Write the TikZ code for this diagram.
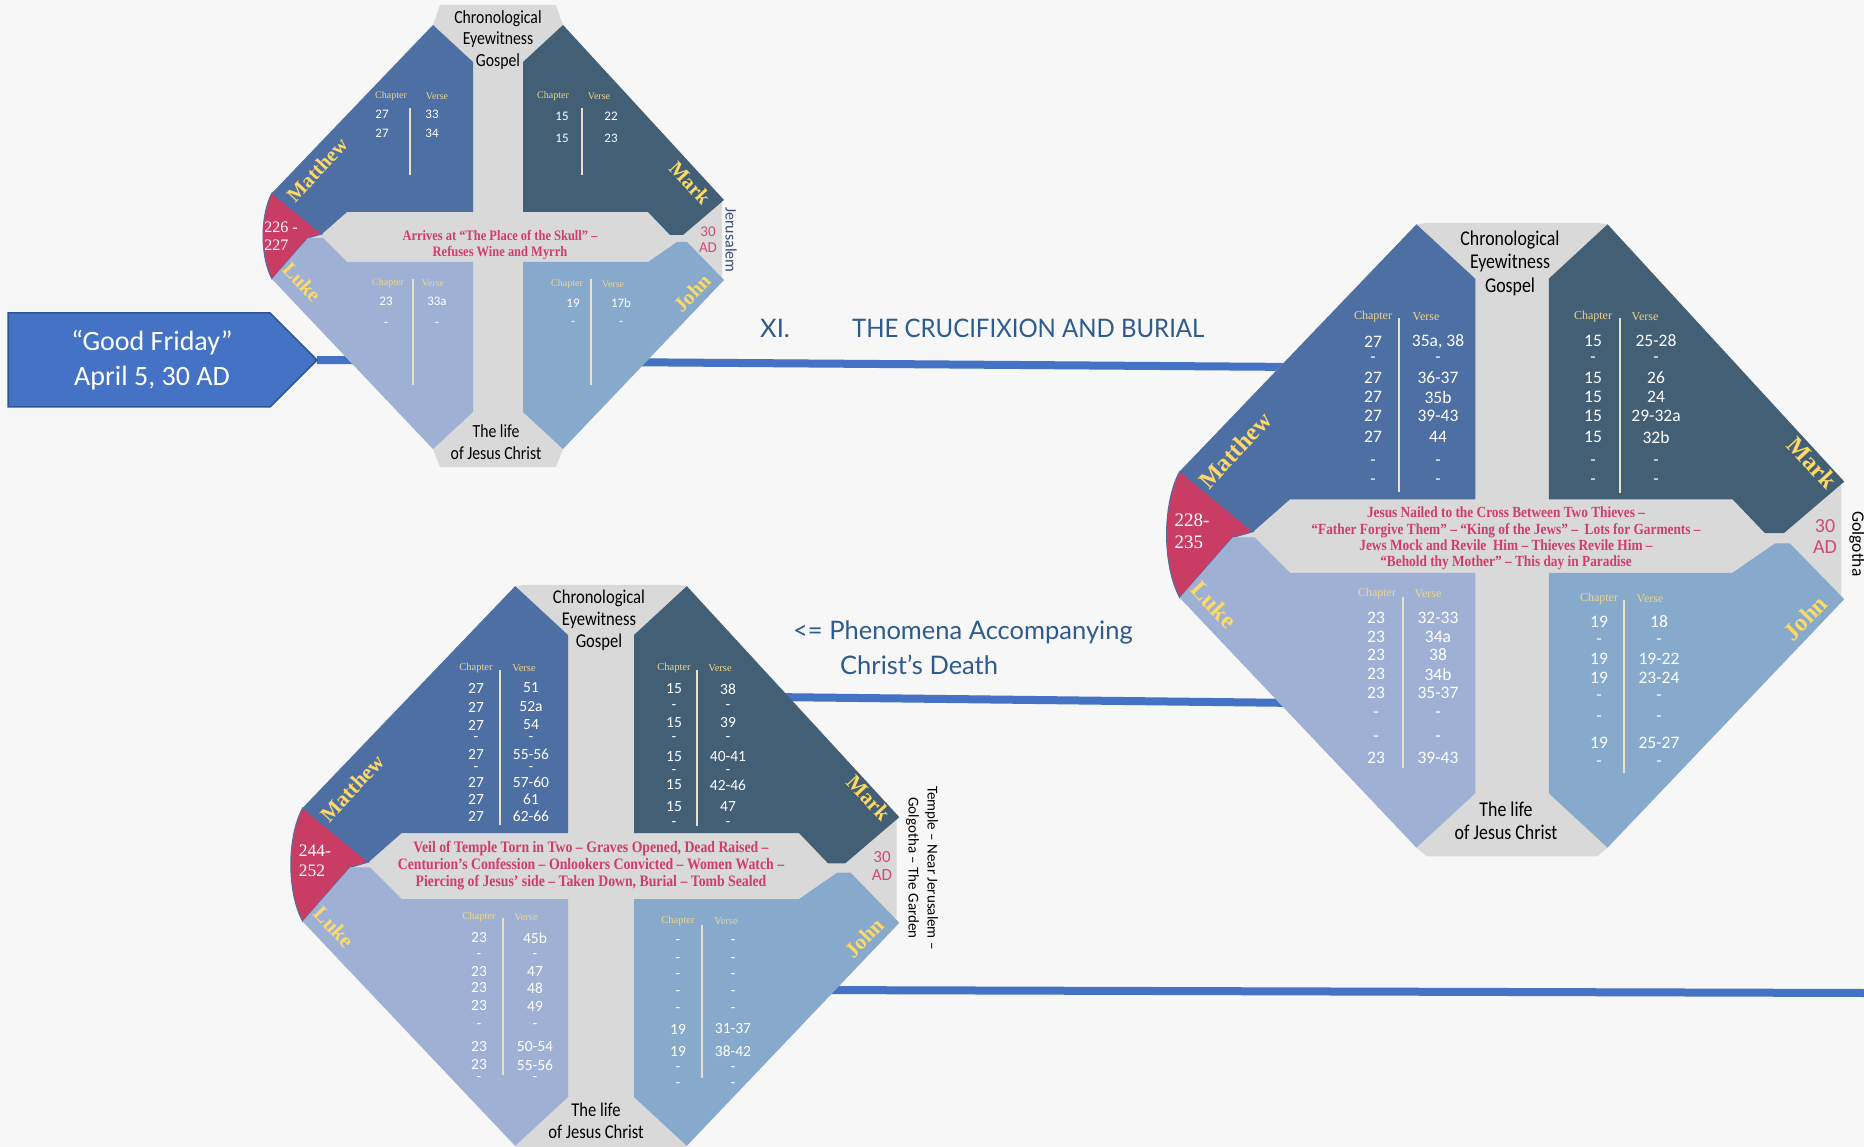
\documentclass[tikz,border=0pt]{standalone}
\usepackage{fontspec}
\setmainfont{Carlito}
\newfontfamily\condf{Carlito}[FakeStretch=0.85]
\newfontfamily\serf{Liberation Serif}
\newfontfamily\serfc{Liberation Serif}[FakeStretch=0.86]
\newfontfamily\titlef{Lato}
\newfontfamily\titlefc{Lato}[FakeStretch=0.94]
\definecolor{bgc}{HTML}{F7F7F7}
\definecolor{matc}{HTML}{4E6FA3}
\definecolor{markc}{HTML}{435F76}
\definecolor{lukec}{HTML}{9EB1D5}
\definecolor{johnc}{HTML}{87AACC}
\definecolor{grayc}{HTML}{D9D9D9}
\definecolor{redc}{HTML}{C93D65}
\definecolor{namey}{HTML}{FFD966}
\definecolor{hdry}{HTML}{F0D58A}
\definecolor{bandred}{HTML}{D03C6B}
\definecolor{adred}{HTML}{D04A78}
\definecolor{titleblue}{HTML}{2D5B8C}
\definecolor{linec}{HTML}{4472C4}
\definecolor{bannerbd}{HTML}{2F5597}
\definecolor{divc}{HTML}{E9E2C8}
\definecolor{locblue}{HTML}{34507A}
\newcounter{nd}
\newcommand\T[3][]{\stepcounter{nd}\edef\nn{t\arabic{nd}}\node[#1] (\nn) at (#2) {#3};}
\newcommand\crow[5]{\T[num]{#1,#3}{#4}\T[num]{#2,#3}{#5}}
% #1 cx, #2 cy, #3 scale, #4 top cap y, #5 bottom cap y
\newcommand\gdiam[5]{%
\begin{scope}[shift={(#1,#2)},scale=#3]
\fill[grayc] (-58,#4) -- (58,#4) -- (65,-212) -- (224,-35) -- (224,40) -- (65,212) -- (58,#5) -- (-58,#5) -- (-65,212) -- (-226,42) -- (-226,-44) -- (-65,-212) -- cycle;
\filldraw[fill=redc,draw=matc,line width=1pt] (-226,-44) -- (-176,-3) -- (-190,1) -- (-226,42) .. controls (-238,20) and (-238,-22) .. (-226,-44) -- cycle;
\fill[matc] (-65,-212) -- (-25,-175) -- (-25,-25) -- (-151,-25) -- (-176,-3) -- (-226,-44) -- cycle;
\fill[markc] (65,-212) -- (25,-175) -- (25,-25) -- (150,-25) -- (172,-2) -- (185,-2) -- (226,-37) -- cycle;
\fill[lukec] (-65,212) -- (-25,175) -- (-25,25) -- (-151,25) -- (-175,1) -- (-190,1) -- (-226,42) -- cycle;
\fill[johnc] (65,212) -- (25,175) -- (25,25) -- (150,25) -- (179,5) -- (189,5) -- (226,43) -- cycle;
\end{scope}}
\def\numsz{13}\def\hdrsz{10}
\tikzset{
 num/.style={text=white,inner sep=0pt,font=\fontsize{\numsz}{\numsz}\selectfont},
 hdr/.style={text=hdry,inner sep=0pt,font=\serf\fontsize{\hdrsz}{\hdrsz}\selectfont},
 gname/.style={text=namey,inner sep=0pt,font=\serf\bfseries\fontsize{#1}{#1}\selectfont},
 bandtxt/.style 2 args={text=bandred,inner sep=0pt,align=center,font=\serfc\bfseries\fontsize{#1}{#2}\selectfont},
 capt/.style 2 args={text=black,inner sep=0pt,align=center,font=\condf\fontsize{#1}{#2}\selectfont},
 adtxt/.style 2 args={text=adred,inner sep=0pt,align=center,font=\fontsize{#1}{#2}\selectfont},
 redno/.style 2 args={text=white,inner sep=0pt,align=left,font=\serf\fontsize{#1}{#2}\selectfont},
 loc/.style 2 args={inner sep=0pt,align=center,rotate=-90,font=\fontsize{#1}{#2}\selectfont},
 title/.style={text=titleblue,inner sep=0pt,anchor=west,font=\titlef\fontsize{25.5}{33}\selectfont},
 divl/.style={draw=divc,line width=1.1pt},
 conn/.style={draw=linec,line width=8pt}
}
\begin{document}
\begin{tikzpicture}[x=1pt,y=-1pt]
\useasboundingbox (0,0) rectangle (1864,1147);
\clip (0,0) rectangle (1864,1147);
\fill[bgc] (0,0) rectangle (1864,1147);
% connectors
\coordinate (btip) at (317,360);
\coordinate (Rin1) at (1300,367);
\coordinate (Bout2) at (770,697);
\coordinate (Rin2) at (1300,703);
\coordinate (Bout3) at (800,990);
\coordinate (Rend3) at (1864,993);
\draw[conn] (btip) -- (Rin1);
\draw[conn] (Bout2) -- (Rin2);
\draw[conn] (Bout3) -- (Rend3);
% banner
\filldraw[fill=linec,draw=bannerbd,line width=1.5pt] (8,313) -- (270,313) -- (btip) -- (270,407) -- (8,407) -- cycle;
\node[text=white,align=center,inner sep=0pt,font=\fontsize{28}{35}\selectfont] (banner) at (152,360) {“Good Friday”\\April 5, 30 AD};
% diamonds
\gdiam{498}{237}{1}{-232}{230}
\gdiam{1512}{536}{1.47}{-213}{218}
\gdiam{601}{866}{1.32}{-213}{218}
% titles
\node[title] (xi) at (760,328) {XI.};
\node[title,font=\titlefc\fontsize{25.5}{33}\selectfont] (ttl) at (852,328) {THE CRUCIFIXION AND BURIAL};
\node[title] (ph1) at (793,632) {<= Phenomena Accompanying};
\node[title] (ph2) at (840,665) {Christ’s Death};
% ===== top-left diamond texts =====
\T[capt={18.5}{21.5}]{498,40}{Chronological\\Eyewitness\\Gospel}
\T[capt={18.5}{21.5}]{496,442}{The life\\of Jesus Christ}
\T[gname=20.5,rotate=47]{317,170}{Matthew}
\T[gname=20.5,rotate=-47]{690,183}{Mark}
\T[gname=20.5,rotate=-47]{302,282}{Luke}
\T[gname=20.5,rotate=46]{692,293}{John}
\T[redno={16}{18}]{281,236}{226 -\\227}
\T[bandtxt={14.5}{16}]{500,245}{Arrives at “The Place of the Skull” –\\Refuses Wine and Myrrh}
\T[adtxt={15}{16}]{708,240}{30\\AD}
\T[loc={16}{18},text=locblue]{731,240}{Jerusalem}
\T[hdr]{391,96}{Chapter}\T[hdr]{437,96}{Verse}
\crow{382}{432}{114}{27}{33}\crow{382}{432}{133}{27}{34}
\draw[divl] (410,108) -- (410,175);
\T[hdr]{553,96}{Chapter}\T[hdr]{599,96}{Verse}
\crow{562}{611}{116}{15}{22}\crow{562}{611}{138}{15}{23}
\draw[divl] (582,108) -- (582,175);
\T[hdr]{388,283}{Chapter}\T[hdr]{433,283}{Verse}
\crow{386}{437}{301}{23}{33a}\crow{386}{437}{324}{-}{-}
\draw[divl] (413,279) -- (413,385);
\T[hdr]{567,284}{Chapter}\T[hdr]{613,284}{Verse}
\crow{573}{621}{303}{19}{17b}\crow{573}{621}{323}{-}{-}
\draw[divl] (591,279) -- (591,385);
% ===== right diamond texts =====
\def\numsz{17.5}\def\hdrsz{12}
\T[capt={21}{23.5}]{1510,263}{Chronological\\Eyewitness\\Gospel}
\T[capt={21}{23.5}]{1506,821}{The life\\of Jesus Christ}
\T[gname=24.5,rotate=47]{1235,450}{Matthew}
\T[gname=24.5,rotate=-47]{1812,463}{Mark}
\T[gname=24.5,rotate=-47]{1214,605}{Luke}
\T[gname=24.5,rotate=46]{1805,618}{John}
\T[redno={19}{22}]{1192,531}{228-\\235}
\T[bandtxt={15.5}{16.3}]{1506,538.5}{Jesus Nailed to the Cross Between Two Thieves –\\“Father Forgive Them” – “King of the Jews” –\ \ Lots for Garments –\\Jews Mock and Revile\ \ Him – Thieves Revile Him –\\“Behold thy Mother” – This day in Paradise}
\T[adtxt={20}{21}]{1825,537}{30\\AD}
\T[loc={17.5}{20},text=black]{1857,544}{Golgotha}
\T[hdr]{1373,317}{Chapter}\T[hdr]{1426,317}{Verse}
\crow{1373}{1438}{342}{27}{35a, 38}
\crow{1373}{1438}{360}{-}{-}
\crow{1373}{1438}{378}{27}{36-37}
\crow{1373}{1438}{397}{27}{35b}
\crow{1373}{1438}{416}{27}{39-43}
\crow{1373}{1438}{437}{27}{44}
\crow{1373}{1438}{463}{-}{-}
\crow{1373}{1438}{482}{-}{-}
\draw[divl] (1399,318) -- (1399,492);
\T[hdr]{1593,317}{Chapter}\T[hdr]{1645,317}{Verse}
\crow{1593}{1656}{341}{15}{25-28}
\crow{1593}{1656}{360}{-}{-}
\crow{1593}{1656}{378}{15}{26}
\crow{1593}{1656}{397}{15}{24}
\crow{1593}{1656}{416}{15}{29-32a}
\crow{1593}{1656}{437}{15}{32b}
\crow{1593}{1656}{463}{-}{-}
\crow{1593}{1656}{482}{-}{-}
\draw[divl] (1620,318) -- (1620,493);
\T[hdr]{1377,594}{Chapter}\T[hdr]{1428,594}{Verse}
\crow{1376}{1438}{618}{23}{32-33}
\crow{1376}{1438}{637}{23}{34a}
\crow{1376}{1438}{655}{23}{38}
\crow{1376}{1438}{674}{23}{34b}
\crow{1376}{1438}{693}{23}{35-37}
\crow{1376}{1438}{715}{-}{-}
\crow{1376}{1438}{739}{-}{-}
\crow{1376}{1438}{758}{23}{39-43}
\draw[divl] (1403,597) -- (1403,768);
\T[hdr]{1599,599}{Chapter}\T[hdr]{1650,599}{Verse}
\crow{1599}{1659}{622}{19}{18}
\crow{1599}{1659}{642}{-}{-}
\crow{1599}{1659}{659}{19}{19-22}
\crow{1599}{1659}{678}{19}{23-24}
\crow{1599}{1659}{698}{-}{-}
\crow{1599}{1659}{719}{-}{-}
\crow{1599}{1659}{743}{19}{25-27}
\crow{1599}{1659}{764}{-}{-}
\draw[divl] (1624,600) -- (1624,773);
% ===== bottom diamond texts =====
\def\numsz{15.5}\def\hdrsz{10.5}
\T[capt={19.5}{22}]{599,620}{Chronological\\Eyewitness\\Gospel}
\T[capt={19.5}{22}]{596,1121}{The life\\of Jesus Christ}
\T[gname=21.5,rotate=47]{352,788}{Matthew}
\T[gname=21.5,rotate=-47]{869,798}{Mark}
\T[gname=21.5,rotate=-47]{334,927}{Luke}
\T[gname=21.5,rotate=46]{864,938}{John}
\T[redno={17.5}{19.5}]{315,861}{244-\\252}
\T[bandtxt={16}{17}]{591,866}{Veil of Temple Torn in Two – Graves Opened, Dead Raised –\\Centurion’s Confession – Onlookers Convicted – Women Watch –\\Piercing of Jesus’ side – Taken Down, Burial – Tomb Sealed}
\T[adtxt={17}{18}]{882,866}{30\\AD}
\T[loc={15}{19},text=black]{922,868}{Temple – Near Jerusalem –\\Golgotha – The Garden}
\T[hdr]{476,668}{Chapter}\T[hdr]{524,668}{Verse}
\crow{476}{531}{688}{27}{51}
\crow{476}{531}{707}{27}{52a}
\crow{476}{531}{725}{27}{54}
\crow{476}{531}{739}{-}{-}
\crow{476}{531}{754}{27}{55-56}
\crow{476}{531}{769}{-}{-}
\crow{476}{531}{782}{27}{57-60}
\crow{476}{531}{799}{27}{61}
\crow{476}{531}{816}{27}{62-66}
\draw[divl] (500,670) -- (500,825);
\T[hdr]{674,668}{Chapter}\T[hdr]{720,668}{Verse}
\crow{674}{728}{689}{15}{38}
\crow{674}{728}{707}{-}{-}
\crow{674}{728}{723}{15}{39}
\crow{674}{728}{739}{-}{-}
\crow{674}{728}{757}{15}{40-41}
\crow{674}{728}{772}{-}{-}
\crow{674}{728}{785}{15}{42-46}
\crow{674}{728}{807}{15}{47}
\crow{674}{728}{824}{-}{-}
\draw[divl] (697,670) -- (697,826);
\T[hdr]{479,917}{Chapter}\T[hdr]{526,917}{Verse}
\crow{479}{535}{938}{23}{45b}
\crow{479}{535}{956}{-}{-}
\crow{479}{535}{972}{23}{47}
\crow{479}{535}{988}{23}{48}
\crow{479}{535}{1006}{23}{49}
\crow{479}{535}{1026}{-}{-}
\crow{479}{535}{1047}{23}{50-54}
\crow{479}{535}{1065}{23}{55-56}
\crow{479}{535}{1079}{-}{-}
\draw[divl] (503,918) -- (503,1075);
\T[hdr]{678,921}{Chapter}\T[hdr]{726,921}{Verse}
\crow{678}{733}{942}{-}{-}
\crow{678}{733}{960}{-}{-}
\crow{678}{733}{976}{-}{-}
\crow{678}{733}{993}{-}{-}
\crow{678}{733}{1010}{-}{-}
\crow{678}{733}{1029}{19}{31-37}
\crow{678}{733}{1051}{19}{38-42}
\crow{678}{733}{1069}{-}{-}
\crow{678}{733}{1085}{-}{-}
\draw[divl] (702,925) -- (702,1078);
\end{tikzpicture}
\end{document}
